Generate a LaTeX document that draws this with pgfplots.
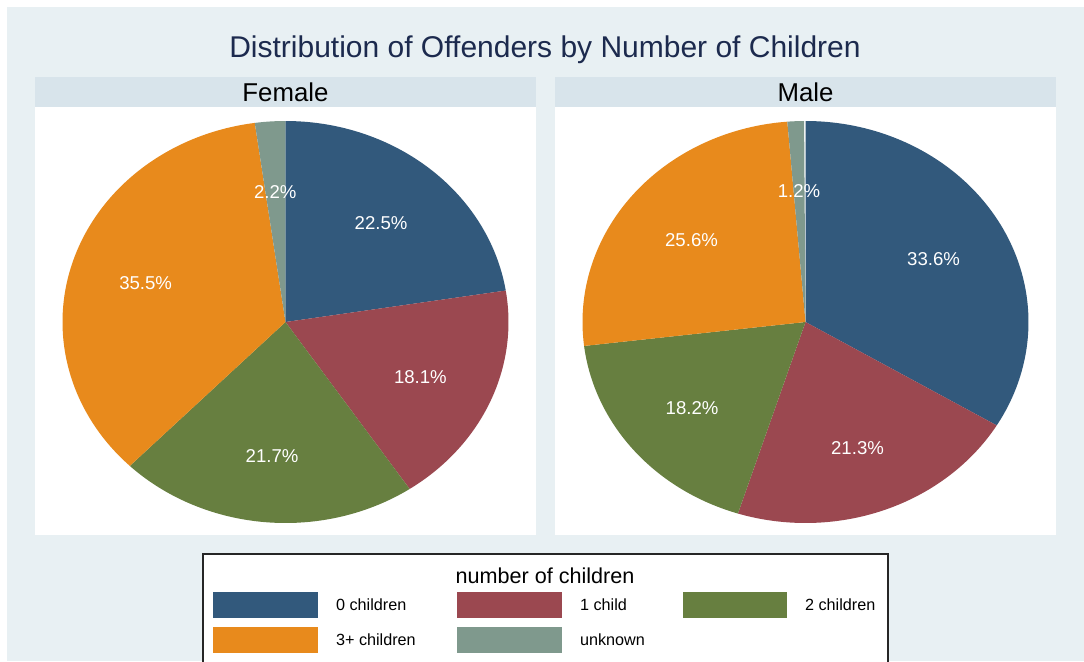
\documentclass[border=0pt]{standalone}
\usepackage{fontspec}
\setmainfont{Liberation Sans}
\usepackage{pgfplots}
\pgfplotsset{compat=1.18}
\definecolor{bgc}{HTML}{E8F0F3}
\definecolor{hdr}{HTML}{D8E4EB}
\definecolor{titlec}{HTML}{1C2A4E}
\definecolor{cA}{HTML}{32597C}
\definecolor{cB}{HTML}{9B4850}
\definecolor{cC}{HTML}{677F40}
\definecolor{cD}{HTML}{E88A1C}
\definecolor{cE}{HTML}{7F998D}
\tikzset{lbl/.style={text=white, font=\fontsize{9.3}{11}\selectfont, yshift=-1pt}}
% one slice: value (percent), colour; slices run clockwise from 12 o'clock
\newcommand\slice[2]{%
  \pgfmathsetmacro\sa{\cum*3.6}%
  \pgfmathsetmacro\sb{(\cum+#1)*3.6}%
  \pgfmathsetmacro\sm{(\cum+#1/2)*3.6}%
  \pgfmathsetmacro\lx{0.66*sin(\sm)}%
  \pgfmathsetmacro\ly{0.66*cos(\sm)}%
  \pgfmathsetmacro\newcum{\cum+#1}\xdef\cum{\newcum}%
  \edef\temp{\noexpand\addplot[fill=#2, draw=none, domain=\sa:\sb, samples=120] ({sin(x)},{cos(x)}) -- (axis cs:0,0) -- cycle;
    \noexpand\node[lbl] at (axis cs:\lx,\ly) {#1\noexpand\%};}%
  \temp}
\pgfplotsset{pie/.style={anchor=center, scale only axis, width=223pt, height=201pt,
  xmin=-1, xmax=1, ymin=-1, ymax=1, hide axis, clip=false}}
\begin{document}
\begin{tikzpicture}[x=0.5pt,y=0.5pt]
\useasboundingbox (0,0) rectangle (1084,661);
\fill[white] (0,0) rectangle (1084,661);
\fill[bgc] (7,0) rectangle (1084,654);
\fill[hdr] (35,554) rectangle (536,584);
\fill[white] (35,126) rectangle (536,554);
\fill[hdr] (555,554) rectangle (1056,584);
\fill[white] (555,126) rectangle (1056,554);
\node[font=\fontsize{15}{18}\selectfont, text=titlec] at (545,611) {Distribution of Offenders by Number of Children};
\node[font=\fontsize{12.9}{15}\selectfont] at (285.5,569) {Female};
\node[font=\fontsize{12.9}{15}\selectfont] at (805.5,569) {Male};

\begin{axis}[pie, at={(142.75pt,169.5pt)}]
\gdef\cum{0}
\slice{22.5}{cA}
\slice{18.1}{cB}
\slice{21.7}{cC}
\slice{35.5}{cD}
\slice{2.2}{cE}
\end{axis}

\begin{axis}[pie, at={(402.75pt,169.5pt)}]
\gdef\cum{0}
\slice{33.6}{cA}
\slice{21.3}{cB}
\slice{18.2}{cC}
\slice{25.6}{cD}
\slice{1.2}{cE}
\end{axis}

% legend
\draw[fill=white, draw=black!85, line width=0.7pt] (203,-10) rectangle (888,107);
\node[font=\fontsize{10.8}{13}\selectfont] at (545,85) {number of children};
\begin{scope}[every node/.style={anchor=west, font=\fontsize{8.1}{10}\selectfont}]
\fill[cA] (213,43) rectangle (318,69); \node at (329,56) {0 children};
\fill[cB] (457,43) rectangle (562,69); \node at (573,56) {1 child};
\fill[cC] (683,43) rectangle (787,69); \node at (798,56) {2 children};
\fill[cD] (213,8) rectangle (318,34); \node at (329,21) {3+ children};
\fill[cE] (457,8) rectangle (562,34); \node at (573,21) {unknown};
\end{scope}
\end{tikzpicture}
\end{document}
